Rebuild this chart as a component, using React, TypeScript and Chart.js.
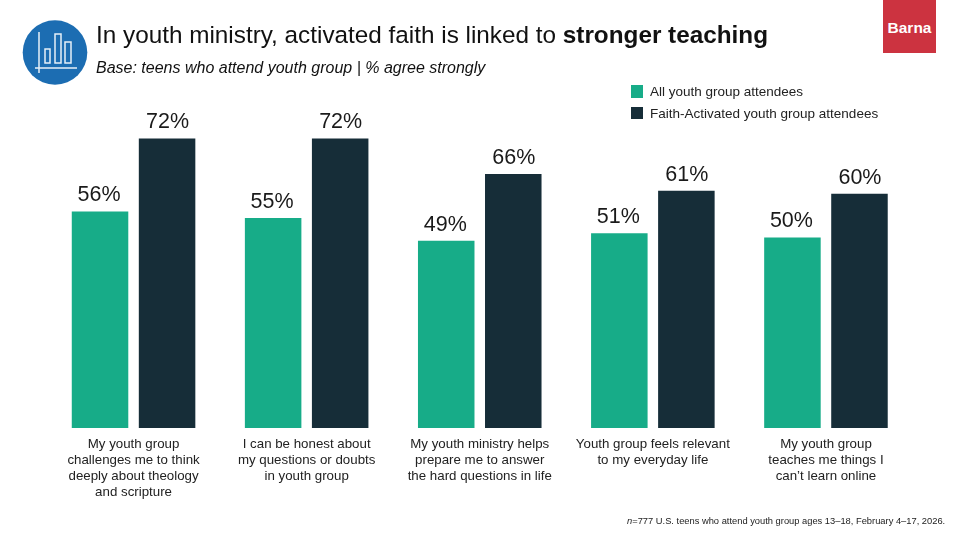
import React, { useEffect, useRef } from "react";
import { Chart, registerables } from "chart.js";

Chart.register(...registerables);

const categories = [
  ["My youth group", "challenges me to think", "deeply about theology", "and scripture"],
  ["I can be honest about", "my questions or doubts", "in youth group"],
  ["My youth ministry helps", "prepare me to answer", "the hard questions in life"],
  ["Youth group feels relevant", "to my everyday life"],
  ["My youth group", "teaches me things I", "can\u2019t learn online"],
];
const seriesNames = ["All youth group attendees", "Faith-Activated youth group attendees"];

// Percentages as printed above the bars.
const printedAll = [56, 55, 49, 51, 50];
const printedActivated = [72, 72, 66, 61, 60];

// Bar lengths as measured in the picture: the source's bars are not strictly
// proportional to their printed percentages, so the two are kept apart.
const barLengthAll = [56.7, 55, 49, 51, 49.9];
const barLengthActivated = [75.8, 75.8, 66.5, 62.1, 61.3];

const GREEN = "#17AC88";
const DARK = "#162D38";
const FONT = '"Liberation Sans", Arial, sans-serif';

const valueLabels = {
  id: "valueLabels",
  afterDatasetsDraw(chart: any) {
    const { ctx } = chart;
    const printed = [printedAll, printedActivated];
    ctx.save();
    ctx.font = `21.5px ${FONT}`;
    ctx.fillStyle = "#1a1a1a";
    ctx.textAlign = "center";
    ctx.textBaseline = "alphabetic";
    printed.forEach((vals, d) => {
      chart.getDatasetMeta(d).data.forEach((el: any, i: number) => {
        ctx.fillText(`${vals[i]}%`, el.x + (d === 0 ? -1 : 0.5), el.y - 10);
      });
    });
    ctx.restore();
  },
};

function Icon() {
  return (
    <svg width="66" height="66" viewBox="0 0 66 66" style={{ position: "absolute", left: 22, top: 20 }}>
      <circle cx="33" cy="32.5" r="32.3" fill="#1C6DB2" />
      <g fill="none" stroke="#E6F0F8" strokeWidth="1.5">
        <path d="M17 12 V53 M13 48 H55" />
        <rect x="23" y="29" width="5" height="14" />
        <rect x="33" y="14" width="6" height="29" />
        <rect x="43" y="22" width="6" height="21" />
      </g>
    </svg>
  );
}

export default function App() {
  const ref = useRef<HTMLCanvasElement | null>(null);
  useEffect(() => {
    const chart = new Chart(ref.current as HTMLCanvasElement, {
      type: "bar",
      data: {
        labels: categories,
        datasets: [
          { label: seriesNames[0], data: barLengthAll, backgroundColor: GREEN, categoryPercentage: 0.7746, barPercentage: 0.843 },
          { label: seriesNames[1], data: barLengthActivated, backgroundColor: DARK, categoryPercentage: 0.7746, barPercentage: 0.843 },
        ],
      },
      options: {
        animation: false,
        responsive: false,
        layout: { padding: { left: 47, right: 47.5, top: 46, bottom: 0 } },
        plugins: { legend: { display: false }, tooltip: { enabled: false } },
        scales: {
          y: { display: false, min: 0, max: 100 },
          x: {
            grid: { display: false, drawTicks: false },
            border: { display: false },
            afterFit(scale: any) {
              scale.height = 112;
            },
            ticks: {
              color: "#222222",
              padding: 8,
              maxRotation: 0,
              autoSkip: false,
              font: { family: FONT, size: 13.3, lineHeight: 1.203 },
            },
          },
        },
      } as any,
      plugins: [valueLabels],
    });
    return () => chart.destroy();
  }, []);

  const abs = (left: number, top: number, extra: any = {}) => ({
    position: "absolute" as const,
    left,
    top,
    whiteSpace: "nowrap" as const,
    fontFamily: FONT,
    color: "#111",
    ...extra,
  });

  return (
    <div style={{ position: "absolute", left: 0, top: 0, width: 960, height: 540, background: "#fff", overflow: "hidden" }}>
      <canvas ref={ref} width={960} height={540} style={{ display: "block" }} />
      <Icon />
      <div style={abs(96, 21, { fontSize: 24.3, lineHeight: "28px" })}>
        In youth ministry, activated faith is linked to <b>stronger teaching</b>
      </div>
      <div style={abs(96, 59, { fontSize: 16, lineHeight: "18px", fontStyle: "italic" })}>
        Base: teens who attend youth group | % agree strongly
      </div>
      <div style={{ position: "absolute", left: 883, top: 0, width: 53, height: 53, background: "#CC3340" }} />
      <div style={abs(883, 19, { width: 53, textAlign: "center", color: "#fff", fontWeight: 700, fontSize: 15.5, lineHeight: "17px" })}>
        Barna
      </div>
      <div style={{ position: "absolute", left: 630.7, top: 85.3, width: 12.5, height: 12.5, background: GREEN }} />
      <div style={abs(650, 83.5, { fontSize: 13.5, lineHeight: "16px", color: "#222" })}>{seriesNames[0]}</div>
      <div style={{ position: "absolute", left: 630.7, top: 106.7, width: 12.5, height: 12.5, background: DARK }} />
      <div style={abs(650, 105.5, { fontSize: 13.5, lineHeight: "16px", color: "#222" })}>{seriesNames[1]}</div>
      <div style={abs(627, 515, { fontSize: 9.33, lineHeight: "12px", color: "#222" })}>
        <i>n</i>=777 U.S. teens who attend youth group ages 13–18, February 4–17, 2026.
      </div>
    </div>
  );
}
